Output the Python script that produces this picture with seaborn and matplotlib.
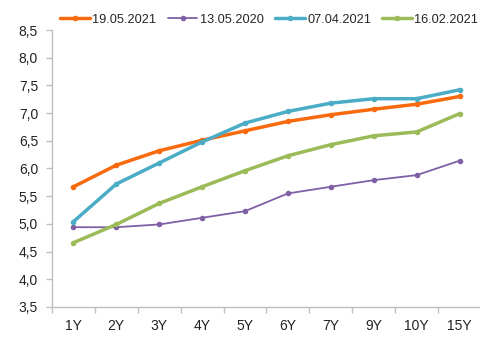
import numpy as np
import pandas as pd
import seaborn as sns
import matplotlib.pyplot as plt
from matplotlib.ticker import FixedLocator

# data
tenors = ["1Y", "2Y", "3Y", "4Y", "5Y", "6Y", "7Y", "9Y", "10Y", "15Y"]
y_19_05_2021 = [5.67, 6.06, 6.32, 6.51, 6.68, 6.85, 6.97, 7.07, 7.16, 7.30]
y_13_05_2020 = [4.94, 4.94, 4.99, 5.11, 5.23, 5.55, 5.67, 5.79, 5.88, 6.14]
y_07_04_2021 = [5.04, 5.72, 6.10, 6.48, 6.82, 7.03, 7.18, 7.26, 7.26, 7.42]
y_16_02_2021 = [4.66, 4.99, 5.37, 5.67, 5.96, 6.23, 6.43, 6.59, 6.66, 6.99]
y_ticks = [3.5, 4.0, 4.5, 5.0, 5.5, 6.0, 6.5, 7.0, 7.5, 8.0, 8.5]

series = [
    ("19.05.2021", y_19_05_2021, "#F96A0E", 2.5),
    ("13.05.2020", y_13_05_2020, "#7F5FA5", 1.3),
    ("07.04.2021", y_07_04_2021, "#4BACC6", 2.5),
    ("16.02.2021", y_16_02_2021, "#9BBB59", 2.5),
]

sns.set_style("white")
plt.rcParams["font.family"] = ["Liberation Sans", "DejaVu Sans"]
plt.rcParams["font.size"] = 10

fig = plt.figure(figsize=(4.81, 3.43), dpi=100)
ax = fig.add_axes([0.108, 0.105, 0.892, 0.8075])

for name, vals, col, lw in series:
    df = pd.DataFrame({"tenor": tenors, "value": vals})
    sns.lineplot(data=df, x="tenor", y="value", ax=ax, color=col, linewidth=lw,
                 marker="o", markersize=4, markeredgewidth=0, label=name)

ax.set_xlim(-0.5, 9.5)
ax.set_ylim(3.5, 8.5)
ax.set_yticks(y_ticks)
ax.set_yticklabels([f"{v:.1f}".replace(".", ",") for v in y_ticks])
ax.xaxis.set_minor_locator(FixedLocator(np.arange(-0.5, 9.0, 1.0)))
ax.tick_params(axis="x", which="major", length=0, pad=9, labelsize=10, colors="#222222")
ax.tick_params(axis="x", which="minor", length=4, width=1, color="#BFBFBF", direction="out", bottom=True)
ax.tick_params(axis="y", length=4, width=1, color="#BFBFBF", direction="out", left=True,
               labelsize=10, labelcolor="#222222", pad=6)
ax.set_xlabel("")
ax.set_ylabel("")
for s in ["top", "right"]:
    ax.spines[s].set_visible(False)
for s in ["left", "bottom"]:
    ax.spines[s].set_color("#BFBFBF")
    ax.spines[s].set_linewidth(1)

handles, labels = ax.get_legend_handles_labels()
ax.get_legend().remove()
fig.legend(handles, labels, loc="center", bbox_to_anchor=(0.56, 0.943), ncol=4,
           frameon=False, handlelength=2.3, handletextpad=0.2, columnspacing=0.9,
           fontsize=9.2, borderpad=0, borderaxespad=0)

fig.savefig("out.png", dpi=100)
